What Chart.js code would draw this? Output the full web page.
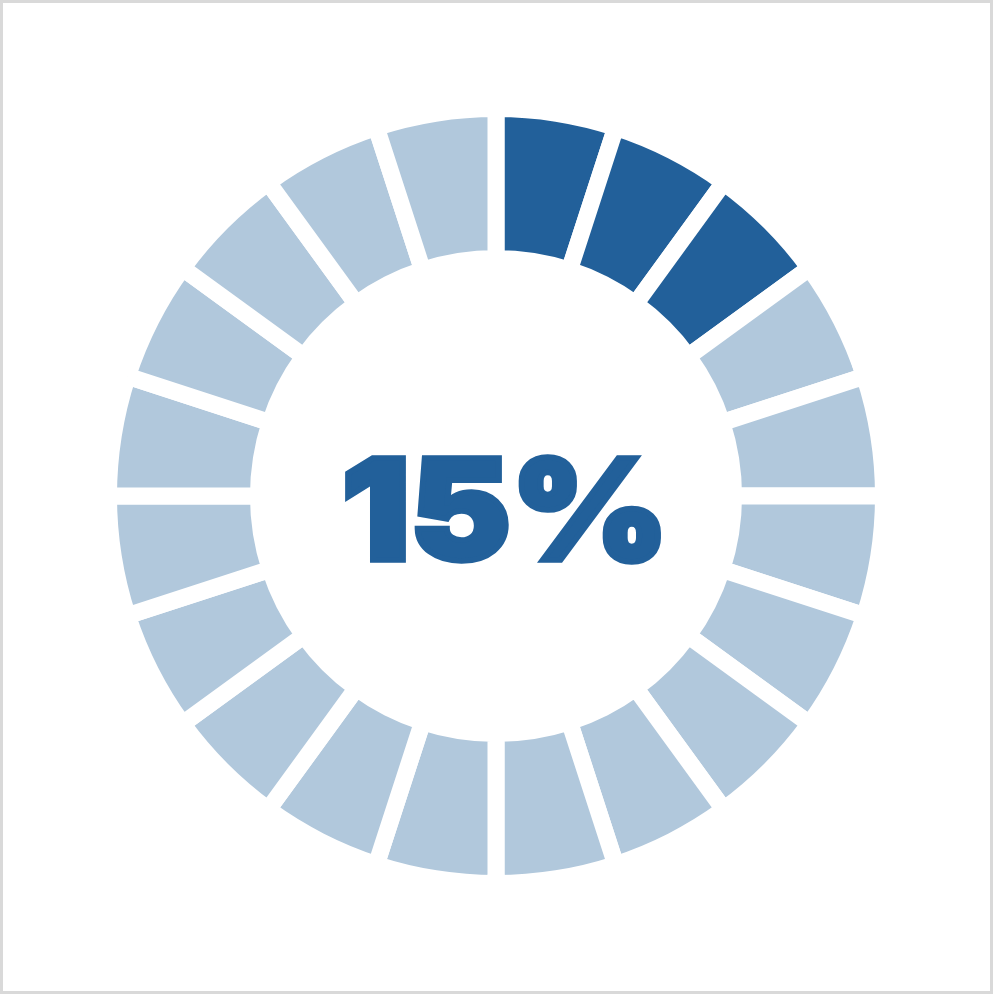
<!DOCTYPE html>
<html>
<head>
<meta charset="utf-8">
<script src="https://cdn.jsdelivr.net/npm/chart.js@4.4.1/dist/chart.umd.min.js"></script>
<style>
  html, body { margin: 0; padding: 0; background: #ffffff; }
  #frame { position: absolute; left: 0; top: 0; width: 993px; height: 994px; box-sizing: border-box; border: 3px solid #d9d9d9; }
  #wrap { position: absolute; left: 0; top: 0; width: 993px; height: 994px; }
</style>
</head>
<body>
<div id="frame"></div>
<div id="wrap"><canvas id="c" width="993" height="994"></canvas></div>
<script>
// Data
const percentValue = 15;
const segmentCount = 20;
const filledSegments = 3;
const segmentLabels = ["S1","S2","S3","S4","S5","S6","S7","S8","S9","S10","S11","S12","S13","S14","S15","S16","S17","S18","S19","S20"];
const segmentValues = [1,1,1,1,1,1,1,1,1,1,1,1,1,1,1,1,1,1,1,1];
const centerLabel = "15%";

const darkColor = "#22609a";
const lightColor = "#b1c8dc";
const segmentColors = segmentValues.map((v, i) => i < filledSegments ? darkColor : lightColor);

const centerTextPlugin = {
  id: 'centerText',
  afterDraw(chart) {
    const ctx = chart.ctx;
    const meta = chart.getDatasetMeta(0);
    const arc = meta.data[0];
    const cx = arc.x, cy = arc.y;
    const sw = 6;
    ctx.save();
    ctx.font = "900 140px 'Arial Black', Inter, 'Liberation Sans', sans-serif";
    ctx.fillStyle = darkColor;
    ctx.strokeStyle = darkColor;
    ctx.lineJoin = 'miter';
    ctx.miterLimit = 2.5;
    ctx.textAlign = 'left';
    ctx.textBaseline = 'alphabetic';
    const m = ctx.measureText(centerLabel);
    const inkW = m.actualBoundingBoxLeft + m.actualBoundingBoxRight;
    const targetW = 317 - sw;
    const sx = targetW / inkW;
    const inkLeft = cx - 151 + sw / 2;
    ctx.translate(inkLeft + m.actualBoundingBoxLeft * sx, cy + 64);
    ctx.scale(sx, 1);
    ctx.fillText(centerLabel, 0, 0);
    ctx.lineWidth = sw / sx;
    ctx.strokeText(centerLabel, 0, 0);
    ctx.restore();
  }
};

new Chart(document.getElementById('c'), {
  type: 'doughnut',
  data: {
    labels: segmentLabels,
    datasets: [{
      data: segmentValues,
      backgroundColor: segmentColors,
      borderColor: '#ffffff',
      borderWidth: 17,
      borderAlign: 'center',
      borderJoinStyle: 'miter',
      hoverOffset: 0
    }]
  },
  options: {
    responsive: false,
    animation: false,
    cutout: '61.3%',
    layout: { padding: { left: 100, right: 101, top: 100, bottom: 102 } },
    plugins: {
      legend: { display: false },
      tooltip: { enabled: false }
    }
  },
  plugins: [centerTextPlugin]
});
</script>
</body>
</html>
